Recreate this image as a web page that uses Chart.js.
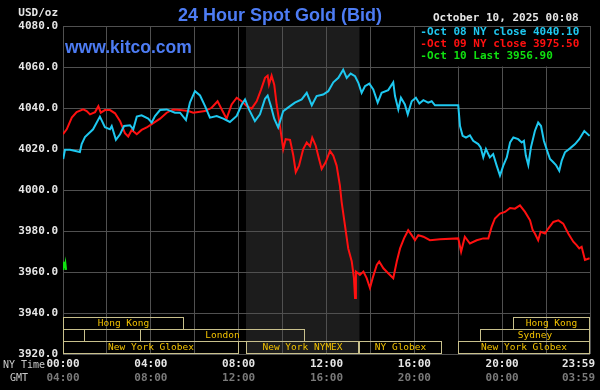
<!DOCTYPE html>
<html>
<head>
<meta charset="utf-8">
<script src="https://cdn.jsdelivr.net/npm/chart.js@4.4.1/dist/chart.umd.min.js"></script>
<style>
  html, body { margin: 0; padding: 0; background: #000; }
  canvas { display: block; }
</style>
</head>
<body>
<canvas id="goldChart" width="600" height="390"></canvas>
<script>
// hours after midnight NY time, price in USD/oz
const oct08Hours = [0.01,0.09,0.32,0.77,0.85,1.00,1.37,1.68,1.91,2.14,2.22,2.41,2.60,2.78,3.05,3.20,3.36,3.58,3.88,4.04,4.19,4.42,4.72,5.10,5.33,5.60,5.78,6.01,6.24,6.47,6.69,7.00,7.30,7.60,7.91,8.14,8.29,8.47,8.74,8.97,9.20,9.32,9.47,9.62,9.80,10.03,10.34,10.56,10.87,11.10,11.33,11.55,11.85,12.08,12.31,12.54,12.76,12.92,13.10,13.30,13.45,13.60,13.75,13.95,14.13,14.33,14.51,14.81,15.04,15.12,15.27,15.39,15.57,15.70,15.88,16.07,16.23,16.41,16.63,16.79,16.94,18.00,18.08,18.20,18.35,18.53,18.68,18.91,19.02,19.14,19.26,19.44,19.59,19.75,19.90,20.05,20.21,20.36,20.51,20.73,20.89,20.99,21.08,21.19,21.31,21.49,21.64,21.77,21.90,22.05,22.18,22.33,22.45,22.60,22.71,22.86,23.09,23.32,23.51,23.74,23.98];
const oct08Prices = [4015.1,4019.6,4019.6,4018.5,4022.4,4025.8,4029.6,4035.8,4030.6,4029.6,4031.2,4024.5,4027.2,4031.2,4031.6,4029.6,4035.8,4036.4,4034.8,4032.9,4036.1,4039.0,4039.3,4037.7,4037.7,4034.1,4042.6,4048.2,4046.1,4040.9,4035.3,4036.1,4034.8,4033.2,4036.1,4041.7,4044.2,4039.3,4033.6,4036.9,4044.5,4046.1,4040.9,4034.8,4030.5,4038.5,4040.9,4042.6,4044.2,4047.4,4041.3,4045.8,4046.6,4048.2,4052.5,4054.7,4058.7,4054.7,4056.8,4055.5,4052.3,4047.4,4050.6,4051.9,4049.0,4042.6,4047.4,4048.7,4052.5,4045.8,4039.3,4045.0,4041.7,4036.9,4043.3,4045.0,4042.2,4043.8,4042.6,4043.3,4041.3,4041.3,4031.2,4026.4,4025.6,4026.7,4024.0,4022.4,4020.8,4015.9,4020.0,4015.9,4017.5,4011.9,4007.0,4011.9,4015.9,4023.2,4025.6,4024.8,4023.2,4024.0,4016.7,4012.2,4020.8,4028.8,4032.9,4031.2,4024.0,4019.1,4015.1,4013.5,4012.2,4009.4,4014.3,4018.4,4020.3,4022.4,4024.8,4028.8,4026.4];

const oct09Hours = [0.00,0.17,0.40,0.62,0.92,1.08,1.23,1.46,1.61,1.72,1.91,2.14,2.37,2.60,2.82,2.97,3.13,3.36,3.58,3.81,4.04,4.42,4.72,5.02,5.33,5.71,5.93,6.47,6.77,7.04,7.23,7.45,7.68,7.91,8.14,8.37,8.59,8.82,9.02,9.20,9.32,9.38,9.50,9.62,9.73,9.88,10.03,10.14,10.34,10.49,10.60,10.75,10.94,11.10,11.25,11.35,11.51,11.66,11.78,11.96,12.16,12.31,12.46,12.61,12.69,12.84,12.99,13.15,13.25,13.30,13.34,13.52,13.68,13.83,13.98,14.10,14.29,14.40,14.59,14.81,15.04,15.20,15.35,15.53,15.72,15.88,16.03,16.18,16.41,16.71,17.17,18.00,18.13,18.30,18.53,18.84,19.14,19.37,19.52,19.67,19.90,20.13,20.36,20.58,20.81,21.04,21.27,21.39,21.49,21.64,21.75,21.95,22.10,22.33,22.56,22.78,23.01,23.24,23.39,23.51,23.62,23.77,23.98];
const oct09Prices = [4027.2,4029.6,4035.3,4038.0,4039.3,4038.5,4036.9,4038.0,4040.9,4037.7,4039.0,4039.0,4037.4,4033.6,4027.7,4026.1,4029.3,4027.2,4029.3,4030.5,4032.1,4034.8,4037.7,4039.3,4039.0,4038.5,4037.7,4038.5,4040.1,4043.3,4039.3,4034.8,4041.7,4045.0,4043.3,4040.9,4039.7,4043.3,4049.0,4054.7,4055.8,4051.4,4055.8,4051.4,4041.7,4031.2,4020.0,4024.8,4024.5,4016.7,4008.7,4011.9,4020.0,4023.2,4021.3,4025.6,4021.6,4015.1,4010.3,4013.5,4019.1,4016.7,4011.9,4002.2,3994.1,3982.8,3971.5,3965.1,3957.0,3947.3,3960.2,3958.6,3960.2,3957.0,3952.2,3957.0,3963.4,3965.1,3961.8,3959.4,3957.0,3965.1,3971.5,3976.4,3980.4,3978.0,3975.5,3978.0,3977.2,3975.5,3976.0,3976.4,3969.9,3977.2,3973.9,3975.5,3976.4,3976.4,3982.0,3986.1,3988.5,3989.3,3991.2,3990.9,3992.5,3989.3,3985.2,3980.4,3978.8,3975.5,3979.6,3978.8,3981.2,3984.4,3985.2,3983.6,3978.8,3974.8,3973.1,3971.5,3972.3,3965.9,3966.7];

const oct10Hours = [0.02,0.05,0.08,0.11,0.14];
const oct10Prices = [3961.0,3965.0,3962.0,3964.0,3961.0];

const seriesLabels = ['Oct 08 NY close 4040.10', 'Oct 09 NY close 3975.50', 'Oct 10 Last 3956.90'];
const seriesColors = ['#1ec8f0', '#ff1010', '#10e010'];

const nyTimeLabels = ['00:00', '04:00', '08:00', '12:00', '16:00', '20:00', '23:59'];
const gmtLabels = ['04:00', '08:00', '12:00', '16:00', '20:00', '00:00', '03:59'];
const labelHours = [0, 4, 8, 12, 16, 20, 24];

// trading sessions: row 0 = top strip
const sessionNames = ['Hong Kong', 'Hong Kong', '', 'London', 'Sydney', 'New York Globex', 'New York NYMEX', 'NY Globex', 'New York Globex'];
const sessionRows = [0, 0, 1, 1, 1, 2, 2, 2, 2];
const sessionStarts = [0, 20.5, 0, 3.5, 19, 0, 8.333, 13.5, 18];
const sessionEnds = [5.5, 24, 1, 11, 24, 8, 13.5, 17.25, 24];

const pitOpen = 8.333;
const pitClose = 13.5;
const stampText = 'October 10, 2025 00:08';

const mono = 'DejaVu Sans Mono';

const toPoints = (hours, prices) => hours.map((h, i) => ({ x: h, y: prices[i] }));

const backdrop = {
  id: 'backdrop',
  beforeDraw(chart) {
    const { ctx, chartArea: a, scales: { x } } = chart;
    ctx.save();
    ctx.fillStyle = '#000';
    ctx.fillRect(0, 0, chart.width, chart.height);
    const x0 = x.getPixelForValue(pitOpen);
    const x1 = x.getPixelForValue(pitClose);
    ctx.fillStyle = '#1c1c1c';
    ctx.fillRect(x0, a.top, x1 - x0, a.bottom - a.top);
    ctx.restore();
  }
};

const overlay = {
  id: 'overlay',
  afterDraw(chart) {
    const { ctx, chartArea: a, scales: { x, y } } = chart;
    ctx.save();

    // headings
    ctx.textBaseline = 'alphabetic';
    ctx.fillStyle = '#4d7cf4';
    ctx.font = 'bold 18px "Liberation Sans", Arial, sans-serif';
    ctx.textAlign = 'center';
    ctx.fillText('24 Hour Spot Gold (Bid)', 280, 21);
    ctx.font = 'bold 17.5px "Liberation Sans", Arial, sans-serif';
    ctx.textAlign = 'left';
    ctx.fillText('www.kitco.com', a.left + 2, 53);

    ctx.textBaseline = 'middle';
    ctx.fillStyle = '#e6e6e6';
    ctx.font = `bold 11px "${mono}"`;
    ctx.textAlign = 'right';
    ctx.fillText('USD/oz', a.left - 5, 13);
    ctx.textAlign = 'left';
    ctx.fillText(stampText, 433, 18);

    // legend box over the top-right grid cell
    const lx = x.getPixelForValue(16);
    const ly = y.getPixelForValue(4060);
    ctx.fillStyle = '#000';
    ctx.fillRect(lx + 1, a.top + 1, a.right - lx - 2, ly - a.top - 1.5);
    ctx.font = `bold 11px "${mono}"`;
    chart.data.datasets.forEach((ds, i) => {
      ctx.fillStyle = ds.borderColor;
      ctx.fillText('-' + ds.label, lx + 6, a.top + 6.5 + i * 12);
    });

    // session strips
    const rowH = 12;
    ctx.font = `9.5px "${mono}"`;
    ctx.textAlign = 'center';
    sessionNames.forEach((name, i) => {
      const x0 = Math.round(x.getPixelForValue(sessionStarts[i]));
      const x1 = Math.round(x.getPixelForValue(sessionEnds[i]));
      const top = Math.round(a.bottom) - (3 - sessionRows[i]) * rowH - 1;
      ctx.strokeStyle = '#c8c08c';
      ctx.lineWidth = 1;
      ctx.strokeRect(x0 + 0.5, top + 0.5, x1 - x0 - 1, rowH);
      if (name) {
        ctx.fillStyle = '#f2c200';
        ctx.fillText(name, (x0 + x1) / 2, top + rowH / 2 + 1);
      }
    });

    // time axis labels
    ctx.font = `bold 11px "${mono}"`;
    labelHours.forEach((h, i) => {
      const w = ctx.measureText(nyTimeLabels[i]).width;
      const px = Math.min(x.getPixelForValue(h), chart.width - 5 - w / 2);
      ctx.fillStyle = '#e6e6e6';
      ctx.fillText(nyTimeLabels[i], px, 364);
      ctx.fillStyle = '#7a7a7a';
      ctx.fillText(gmtLabels[i], px, 378);
    });
    ctx.font = `10px "${mono}"`;
    ctx.textAlign = 'left';
    ctx.fillStyle = '#c8c8c8';
    ctx.fillText('NY Time', 3, 365);
    ctx.fillText('GMT', 10, 378);

    ctx.restore();
  }
};

new Chart(document.getElementById('goldChart'), {
  type: 'line',
  data: {
    datasets: [
      { label: seriesLabels[0], data: toPoints(oct08Hours, oct08Prices), borderColor: seriesColors[0] },
      { label: seriesLabels[1], data: toPoints(oct09Hours, oct09Prices), borderColor: seriesColors[1] },
      { label: seriesLabels[2], data: toPoints(oct10Hours, oct10Prices), borderColor: seriesColors[2] }
    ]
  },
  options: {
    responsive: false,
    animation: false,
    devicePixelRatio: 1,
    layout: { padding: { left: 0, right: 10, top: 26, bottom: 36 } },
    elements: {
      point: { radius: 0 },
      line: { borderWidth: 2, tension: 0 }
    },
    plugins: {
      legend: { display: false },
      tooltip: { enabled: false }
    },
    scales: {
      x: {
        type: 'linear',
        min: 0,
        max: 24,
        ticks: { display: false, stepSize: 2 },
        grid: { color: '#505050', drawTicks: false },
        border: { display: false },
        afterFit(s) { s.height = 0; s.paddingLeft = 0; s.paddingRight = 0; }
      },
      y: {
        min: 3920,
        max: 4080,
        ticks: {
          stepSize: 20,
          padding: 5,
          color: '#e6e6e6',
          font: { family: mono, size: 11, weight: 'bold' },
          callback: v => v.toFixed(1)
        },
        grid: { color: '#505050', drawTicks: false },
        border: { display: false },
        afterFit(s) { s.width = 63; }
      }
    }
  },
  plugins: [backdrop, overlay]
});
</script>
</body>
</html>
